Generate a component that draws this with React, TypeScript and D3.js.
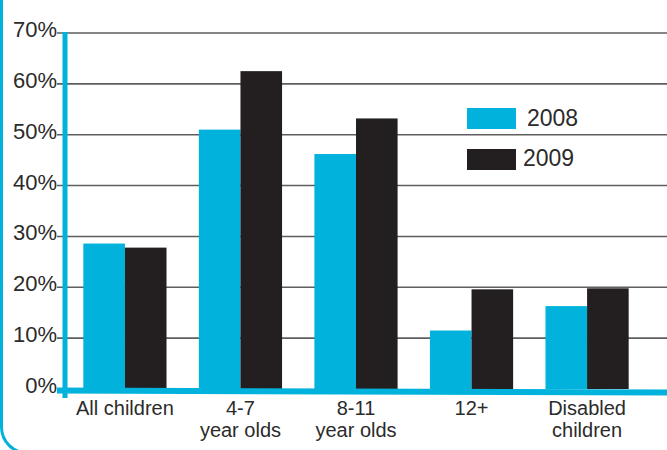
import * as React from 'react';
import {scaleBand, scaleLinear} from 'd3';

const categories = ['All children', '4-7 year olds', '8-11 year olds', '12+', 'Disabled children'];
const categoryLines = [['All children'], ['4-7', 'year olds'], ['8-11', 'year olds'], ['12+'], ['Disabled', 'children']];
const series2008 = [28.6, 51, 46.2, 11.5, 16.3];
const series2009 = [27.8, 62.5, 53.2, 19.6, 19.8];
const seriesNames = ['2008', '2009'];
const yTicks = [0, 10, 20, 30, 40, 50, 60, 70];

const BLUE = '#00b2dc';
const BLACK = '#231f20';
const TEXT = '#2b2b2b';
const FONT = '"Liberation Sans", Arial, sans-serif';

export default function App() {
  const width = 667;
  const height = 450;

  const y = scaleLinear().domain([0, 70]).range([389, 33]);
  const x = scaleBand<string>()
    .domain(categories)
    .range([66, 646])
    .paddingInner(0.28)
    .paddingOuter(0.15);
  const sub = scaleBand<string>()
    .domain(seriesNames)
    .range([0, x.bandwidth()]);

  const values = [series2008, series2009];
  const colors = [BLUE, BLACK];

  return (
    <svg width={width} height={height} style={{position: 'absolute', left: 0, top: 0}}
         fontFamily={FONT}>
      <rect x={0} y={0} width={width} height={height} fill="#fff" />
      {/* frame corner */}
      <rect x={1.5} y={-60} width={800} height={513} rx={26} fill="none" stroke={BLUE} strokeWidth={3} />

      {/* gridlines + tick labels */}
      {yTicks.map((t) => (
        <g key={t}>
          {t > 0 && <line x1={57} x2={667} y1={y(t)} y2={y(t)} stroke="#5e5e5e" strokeWidth={1.6} />}
          <text x={57} y={y(t) + 4} textAnchor="end" fontSize={22} fill={TEXT}>{t}%</text>
        </g>
      ))}

      {/* bars */}
      {values.map((vals, si) => vals.map((v, i) => (
        <rect key={`${si}-${i}`}
              x={(x(categories[i]) as number) + (sub(seriesNames[si]) as number)}
              y={y(v)}
              width={sub.bandwidth()}
              height={y(0) - y(v)}
              fill={colors[si]} />
      )))}

      {/* axes */}
      <line x1={57} x2={667} y1={390.5} y2={392.5} stroke={BLUE} strokeWidth={6} />
      <line x1={65} x2={65} y1={32} y2={398} stroke={BLUE} strokeWidth={5} />

      {/* category labels */}
      {categoryLines.map((lines, i) => (
        <text key={i} x={(x(categories[i]) as number) + x.bandwidth() / 2} y={415}
              textAnchor="middle" fontSize={20} fill={TEXT}>
          {lines.map((l, j) => (
            <tspan key={j} x={(x(categories[i]) as number) + x.bandwidth() / 2} dy={j === 0 ? 0 : 22}>{l}</tspan>
          ))}
        </text>
      ))}

      {/* legend */}
      {seriesNames.map((s, i) => (
        <g key={s}>
          <rect x={467} y={108 + i * 41} width={49} height={21} fill={colors[i]} />
          <text x={i === 0 ? 527 : 523} y={126 + i * 40} fontSize={23} fill={TEXT}>{s}</text>
        </g>
      ))}
    </svg>
  );
}
